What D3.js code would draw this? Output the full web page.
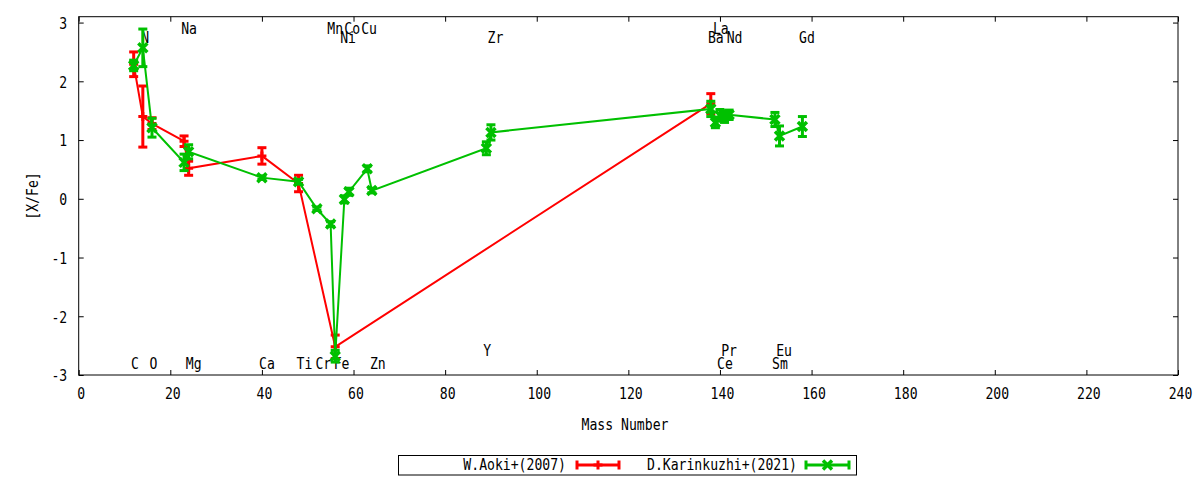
<!DOCTYPE html>
<html>
<head>
<meta charset="utf-8">
<script src="https://cdn.jsdelivr.net/npm/d3@7"></script>
<style>
  html, body { margin: 0; padding: 0; background: #fff; }
  svg text { font-family: "DejaVu Sans Mono", "Liberation Mono", monospace; font-size: 16px; fill: #000; }
</style>
</head>
<body>
<svg id="chart" width="1200" height="480"></svg>
<script>
// ---------- data ----------
const xTicks = [0, 20, 40, 60, 80, 100, 120, 140, 160, 180, 200, 220, 240];
const yTicks = [-3, -2, -1, 0, 1, 2, 3];

const aokiName = "W.Aoki+(2007)";
const aokiMass = [12, 14, 16, 23, 24, 40, 48, 56, 138];
const aokiVal  = [2.29, 1.40, 1.28, 0.98, 0.52, 0.73, 0.26, -2.52, 1.62];
const aokiErr  = [0.21, 0.52, 0.10, 0.09, 0.12, 0.14, 0.14, 0.20, 0.17];

const karName = "D.Karinkuzhi+(2021)";
const karMass = [12, 14, 16, 23, 24, 40, 48, 52, 55, 56, 58, 59, 63, 64, 89, 90, 138, 139, 140, 141, 142, 152, 153, 158];
const karVal  = [2.27, 2.57, 1.21, 0.62, 0.80, 0.36, 0.29, -0.17, -0.43, -2.68, -0.01, 0.12, 0.51, 0.14, 0.86, 1.13, 1.53, 1.30, 1.42, 1.40, 1.43, 1.35, 1.07, 1.23];
const karErr  = [0.09, 0.32, 0.16, 0.14, 0.12, 0.03, 0.04, 0.03, 0.04, 0.10, 0.06, 0.06, 0.05, 0.04, 0.11, 0.13, 0.13, 0.09, 0.10, 0.10, 0.08, 0.12, 0.17, 0.17];

const elemName = ["C", "N", "O", "Na", "Mg", "Ca", "Ti", "Cr", "Mn", "Fe", "Ni", "Co", "Cu", "Zn", "Y", "Zr", "Ba", "La", "Ce", "Pr", "Nd", "Sm", "Eu", "Gd"];
const elemX    = [12.3, 14.5, 16.3, 24.1, 25.1, 41.1, 49.3, 53.4, 56.0, 57.4, 58.8, 59.7, 63.4, 65.3, 89.2, 91.0, 139.1, 140.2, 141.1, 142.0, 143.2, 153.1, 154.0, 159.0];
const elemY    = [-2.80, 2.75, -2.80, 2.90, -2.80, -2.80, -2.80, -2.80, 2.90, -2.80, 2.75, 2.90, 2.90, -2.80, -2.57, 2.75, 2.75, 2.90, -2.80, -2.57, 2.75, -2.80, -2.57, 2.75];

// ---------- layout ----------
const SX = 0.82; // horizontal glyph squeeze
const svg = d3.select("#chart");
const x = d3.scaleLinear().domain([0, 240]).range([78.7, 1178]);
const y = d3.scaleLinear().domain([-3, 3.1]).range([375, 16.7]);

function label(g, tx, ty, str, anchor, rot) {
  return g.append("text")
    .attr("transform", `translate(${tx},${ty})` + (rot ? ` rotate(${rot})` : "") + ` scale(${SX},1)`)
    .attr("text-anchor", anchor || "start")
    .text(str);
}

// frame
svg.append("rect")
  .attr("x", x.range()[0]).attr("y", y.range()[1])
  .attr("width", x.range()[1] - x.range()[0])
  .attr("height", y.range()[0] - y.range()[1])
  .attr("fill", "none").attr("stroke", "#000").attr("stroke-width", 1);

// axes
function styleAxis(g) {
  g.select(".domain").remove();
  g.selectAll(".tick line").attr("stroke", "#000").attr("stroke-width", 1);
}
const gx = svg.append("g").attr("transform", `translate(0,${y.range()[0]})`)
  .call(d3.axisBottom(x).tickValues(xTicks).tickFormat(d3.format("d")).tickSizeInner(-5).tickSizeOuter(0));
styleAxis(gx);
gx.selectAll(".tick text")
  .attr("y", 24).attr("dy", 0).attr("x", 0)
  .attr("transform", `translate(2,0) scale(${SX},1)`)
  .attr("font-family", null).attr("font-size", null).attr("fill", "#000");

const gxTop = svg.append("g").attr("transform", `translate(0,${y.range()[1]})`)
  .call(d3.axisTop(x).tickValues(xTicks).tickFormat("").tickSizeInner(-5).tickSizeOuter(0));
styleAxis(gxTop);

const gy = svg.append("g").attr("transform", `translate(${x.range()[0]},0)`)
  .call(d3.axisLeft(y).tickValues(yTicks).tickFormat(d3.format("d")).tickSizeInner(-5).tickSizeOuter(0));
styleAxis(gy);
gy.selectAll(".tick text")
  .attr("x", -11.5 / SX).attr("dy", "0.36em")
  .attr("transform", `scale(${SX},1)`)
  .attr("font-family", null).attr("font-size", null).attr("fill", "#000")
  .text(d => d < 0 ? "-" + Math.abs(d) : d);

const gyR = svg.append("g").attr("transform", `translate(${x.range()[1]},0)`)
  .call(d3.axisRight(y).tickValues(yTicks).tickFormat("").tickSizeInner(-5).tickSizeOuter(0));
styleAxis(gyR);

// axis titles
label(svg, 38, 196, "[X/Fe]", "middle", -90);
label(svg, 625, 430, "Mass Number", "middle");

// element labels
const gl = svg.append("g");
elemName.forEach((n, i) => {
  label(gl, x(elemX[i]), y(elemY[i]) + 5.8, n, "middle");
});

// ---------- series ----------
function drawSeries(mass, val, err, color, marker) {
  const g = svg.append("g");
  const pts = mass.map((m, i) => ({ m, v: val[i], e: err[i] }));
  g.append("path")
    .datum(pts)
    .attr("fill", "none").attr("stroke", color).attr("stroke-width", 2)
    .attr("d", d3.line().x(d => x(d.m)).y(d => y(d.v)));
  const cap = 4.5;
  pts.forEach(d => {
    const cx = x(d.m), y0 = y(d.v - d.e), y1 = y(d.v + d.e);
    g.append("line").attr("x1", cx).attr("x2", cx).attr("y1", y0).attr("y2", y1)
      .attr("stroke", color).attr("stroke-width", 3);
    [y0, y1].forEach(yy => g.append("line")
      .attr("x1", cx - cap).attr("x2", cx + cap).attr("y1", yy).attr("y2", yy)
      .attr("stroke", color).attr("stroke-width", 3));
    drawMarker(g, cx, y(d.v), color, marker);
  });
}
function drawMarker(g, cx, cy, color, marker) {
  const r = 4.5;
  if (marker === "plus") {
    g.append("path").attr("d", `M${cx - r},${cy}H${cx + r}M${cx},${cy - r}V${cy + r}`)
      .attr("stroke", color).attr("stroke-width", 3).attr("fill", "none");
  } else {
    g.append("path").attr("d", `M${cx - r},${cy - r}L${cx + r},${cy + r}M${cx - r},${cy + r}L${cx + r},${cy - r}`)
      .attr("stroke", color).attr("stroke-width", 3.5).attr("fill", "none");
  }
}

drawSeries(aokiMass, aokiVal, aokiErr, "#ff0000", "plus");
drawSeries(karMass, karVal, karErr, "#00c000", "cross");

// ---------- legend ----------
const lg = svg.append("g");
lg.append("rect").attr("x", 398.5).attr("y", 455.5).attr("width", 458).attr("height", 19.5)
  .attr("fill", "none").attr("stroke", "#000").attr("stroke-width", 1);
const legendItems = [
  { name: aokiName, color: "#ff0000", marker: "plus", tx: 566, x0: 577, x1: 619 },
  { name: karName, color: "#00c000", marker: "cross", tx: 797, x0: 806, x1: 849 }
];
legendItems.forEach(it => {
  label(lg, it.tx, 470, it.name, "end");
  const ly = 465;
  lg.append("line").attr("x1", it.x0).attr("x2", it.x1).attr("y1", ly).attr("y2", ly)
    .attr("stroke", it.color).attr("stroke-width", 3);
  [it.x0, it.x1].forEach(xx => lg.append("line")
    .attr("x1", xx).attr("x2", xx).attr("y1", ly - 4.5).attr("y2", ly + 4.5)
    .attr("stroke", it.color).attr("stroke-width", 3));
  drawMarker(lg, (it.x0 + it.x1) / 2, ly, it.color, it.marker);
});
</script>
</body>
</html>
